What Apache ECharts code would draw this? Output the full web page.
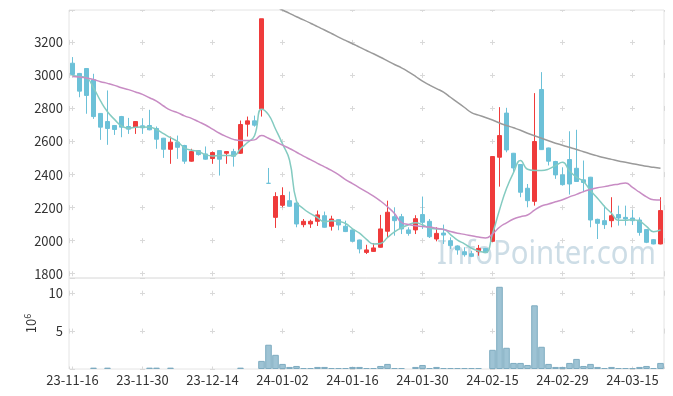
<!DOCTYPE html>
<html><head><meta charset="utf-8">
<script src="https://cdn.jsdelivr.net/npm/echarts@6/dist/echarts.min.js"></script>
<style>html,body{margin:0;padding:0;background:#fff;}#c{width:673px;height:396px;}</style>
</head><body><div id="c"></div>
<script>
const dates = ['23-11-16','23-11-17','23-11-20','23-11-21','23-11-22','23-11-23','23-11-24','23-11-27','23-11-28','23-11-29','23-11-30',
'23-12-01','23-12-04','23-12-05','23-12-06','23-12-07','23-12-08','23-12-11','23-12-12','23-12-13','23-12-14',
'23-12-15','23-12-18','23-12-19','23-12-20','23-12-21','23-12-22','23-12-26','23-12-27','23-12-28','24-01-02',
'24-01-03','24-01-04','24-01-05','24-01-08','24-01-09','24-01-10','24-01-11','24-01-12','24-01-15','24-01-16',
'24-01-17','24-01-18','24-01-19','24-01-22','24-01-23','24-01-24','24-01-25','24-01-26','24-01-29','24-01-30',
'24-01-31','24-02-01','24-02-02','24-02-05','24-02-06','24-02-07','24-02-08','24-02-13','24-02-14','24-02-15',
'24-02-16','24-02-19','24-02-20','24-02-21','24-02-22','24-02-23','24-02-26','24-02-27','24-02-28','24-02-29',
'24-03-04','24-03-05','24-03-06','24-03-07','24-03-08','24-03-11','24-03-12','24-03-13','24-03-14','24-03-15',
'24-03-18','24-03-19','24-03-20','24-03-21'];

const opens  = [3074,3012,3042,2974,2770,2721,2697,2751,2691,2687,2695,2697,2679,2620,2553,2596,2576,2481,2545,2525,2497,2545,2529,2539,2529,2705,2725,2798,2347,2141,2214,2242,2228,2097,2101,2117,2151,2087,2127,2087,2065,2004,1929,1935,1960,2057,2145,2145,2065,2065,2158,2117,2010,2046,2000,1968,1933,1921,1933,1953,1996,2505,2772,2529,2461,2317,2238,2915,2561,2479,2398,2491,2438,2368,2384,2129,2121,2121,2158,2141,2137,2125,2067,2006,1980];
const closes = [3006,2905,2879,2751,2687,2679,2673,2687,2675,2721,2683,2671,2614,2553,2596,2565,2481,2539,2521,2493,2533,2493,2539,2511,2703,2725,2699,3343,2347,2267,2273,2208,2101,2117,2117,2156,2081,2131,2095,2055,1996,1950,1944,1956,2071,2172,2121,2071,2044,2133,2111,2024,2044,2034,1970,1944,1915,1905,1953,1927,2509,2636,2549,2440,2293,2242,2600,2551,2481,2398,2339,2343,2358,2352,2125,2105,2097,2151,2137,2131,2121,2050,1990,1980,2182];
const lows   = [3000,2868,2768,2737,2610,2580,2640,2626,2646,2646,2646,2668,2556,2501,2465,2495,2465,2478,2515,2490,2465,2394,2465,2448,2525,2630,2690,2751,2347,2077,2202,2205,2081,2081,2077,2089,2079,2061,2063,2052,1993,1923,1919,1933,1958,2020,2030,2040,2030,2040,2071,2016,1996,1980,1950,1915,1903,1900,1909,1925,1993,2327,2535,2414,2263,2202,2212,2549,2455,2374,2333,2279,2355,2293,2081,2010,2071,2081,2091,2091,2095,2030,1985,1978,1978];
const highs  = [3111,3015,3045,3010,2772,2909,2700,2755,2743,2724,2741,2792,2691,2622,2630,2636,2580,2556,2548,2570,2540,2548,2541,2556,2727,2751,2757,3343,2440,2293,2323,2297,2230,2131,2127,2182,2176,2151,2129,2121,2068,2006,1975,1985,2156,2242,2202,2162,2081,2154,2267,2131,2081,2097,2020,1972,1960,1939,1974,1956,2512,2808,2804,2531,2463,2343,2893,3020,2563,2483,2444,2662,2671,2485,2386,2133,2212,2263,2212,2212,2186,2141,2069,2010,2263];

const ma5  = [2998,2994,2986,2925,2846,2780,2734,2695,2680,2687,2688,2687,2673,2648,2623,2600,2562,2547,2540,2520,2513,2516,2516,2514,2556,2594,2635,2796,2763,2676,2586,2488,2239,2193,2163,2140,2114,2120,2116,2104,2072,2045,2008,1980,1983,2019,2053,2078,2096,2108,2096,2077,2071,2069,2037,2003,1981,1954,1937,1929,2042,2186,2315,2412,2485,2432,2425,2425,2433,2454,2474,2422,2384,2358,2303,2257,2207,2166,2123,2124,2127,2118,2086,2054,2065];
const ma20 = [2994,2990,2984,2975,2962,2952,2940,2925,2914,2900,2885,2865,2845,2815,2790,2775,2755,2740,2720,2700,2675,2650,2630,2613,2606,2606,2610,2636,2620,2600,2578,2558,2535,2512,2490,2468,2447,2425,2400,2370,2345,2320,2295,2270,2240,2205,2165,2110,2098,2090,2086,2082,2075,2068,2055,2045,2038,2030,2022,2016,2040,2081,2108,2131,2145,2155,2185,2210,2222,2235,2248,2265,2280,2297,2310,2320,2327,2335,2342,2349,2322,2293,2265,2248,2246];
const ma60 = [null,null,null,null,null,null,null,null,null,null,null,null,null,null,null,null,null,null,null,null,null,null,null,null,null,null,null,null,null,3418,3396,3376,3355,3336,3316,3295,3275,3254,3232,3212,3192,3171,3151,3131,3110,3088,3066,3046,3022,2995,2965,2942,2920,2899,2868,2837,2806,2775,2760,2745,2730,2712,2697,2683,2668,2650,2635,2620,2605,2590,2578,2565,2552,2538,2525,2513,2502,2492,2482,2474,2466,2458,2450,2444,2438];

// volume in millions (10^6); 0 = too small to see in the picture
const volumes = [0,0,0,0.18,0,0.18,0,0,0,0,0,0.18,0.18,0,0.18,0,0,0,0,0,0,0,0,0,0.18,0,0,1.07,3.2,1.87,0.67,0.27,0.4,0.13,0.13,0.27,0.27,0.13,0.13,0.13,0.27,0.27,0.13,0.13,0.4,0.67,0.13,0.13,0,0.27,0.53,0.13,0.27,0.13,0.13,0.13,0.13,0.13,0.13,0,2.53,10.84,2.8,0.8,0.8,0.53,8.4,2.93,0.67,0.27,0.27,0.8,1.33,0.4,0.67,0.27,0.13,0.27,0.13,0.13,0.13,0.27,0.4,0.13,0.8];

const candles = dates.map((d, i) => [opens[i], closes[i], lows[i], highs[i]]);
const volData = volumes.map(v => (v > 0 ? v : null));

const FONT = '"Noto Sans CJK KR", "Noto Sans", sans-serif';
const borderCol = '#e4e4e4';
const crossCol = '#d9d9d9';
const UP = '#ef3b3b', DOWN = '#6cc1d8';

const chart = echarts.init(document.getElementById('c'), null, {renderer: 'canvas'});
chart.setOption({
  animation: false,
  backgroundColor: '#ffffff',
  textStyle: {fontFamily: FONT},
  grid: [
    {left: 69, right: 9, top: 10, height: 268, show: true, borderColor: borderCol, borderWidth: 1, backgroundColor: 'transparent'},
    {left: 69, right: 9, top: 278, height: 91, show: true, borderColor: borderCol, borderWidth: 1, backgroundColor: 'transparent'}
  ],
  xAxis: [
    {type: 'category', gridIndex: 0, data: dates, boundaryGap: true,
     axisLine: {show: false}, axisTick: {show: false}, axisLabel: {show: false}, splitLine: {show: false}},
    {type: 'category', gridIndex: 1, data: dates, boundaryGap: true,
     axisLine: {show: false}, axisTick: {show: false},
     axisLabel: {show: true, interval: 9, color: '#333', fontSize: 13, margin: 5, fontFamily: FONT},
     splitLine: {show: false}},
    {type: 'value', gridIndex: 0, min: -0.5, max: 84.5, minInterval: 10, maxInterval: 10,
     axisLine: {show: false}, axisTick: {show: false}, axisLabel: {show: false},
     splitLine: {show: true, lineStyle: {color: crossCol, width: 1, type: [5, 28.05], dashOffset: 3.17}}},
    {type: 'value', gridIndex: 1, min: -0.5, max: 84.5, minInterval: 10, maxInterval: 10,
     axisLine: {show: false}, axisTick: {show: false}, axisLabel: {show: false},
     splitLine: {show: true, lineStyle: {color: crossCol, width: 1, type: [5, 32.92], dashOffset: 25.25}}}
  ],
  yAxis: [
    {type: 'value', gridIndex: 0, min: 1774, max: 3396, minInterval: 200, maxInterval: 200, scale: true,
     axisLine: {show: false}, axisTick: {show: false},
     axisLabel: {color: '#333', fontSize: 13, margin: 6, showMinLabel: false, showMaxLabel: false, fontFamily: FONT,
                 formatter: v => String(v)},
     splitLine: {show: true, lineStyle: {color: crossCol, width: 1, type: [5, 65], dashOffset: 69}}},
    {type: 'value', gridIndex: 1, min: 0, max: 12, minInterval: 5, maxInterval: 5,
     name: '{a|10}{b|6}', nameLocation: 'middle', nameRotate: 90, nameGap: 30,
     nameTextStyle: {rich: {
       a: {fontSize: 13, color: '#333', lineHeight: 16, fontFamily: FONT},
       b: {fontSize: 9, color: '#333', lineHeight: 10, verticalAlign: 'top', fontFamily: FONT}}},
     axisLine: {show: false}, axisTick: {show: false},
     axisLabel: {color: '#333', fontSize: 13, margin: 6, showMinLabel: false, showMaxLabel: false, fontFamily: FONT,
                 formatter: v => String(v)},
     splitLine: {show: true, lineStyle: {color: crossCol, width: 1, type: [5, 65], dashOffset: 69}}}
  ],
  graphic: [
    {type: 'text', x: 656, y: 255, scaleX: 0.89, z: 1, silent: true,
     style: {text: 'InfoPointer.com', font: '33px "Noto Sans", sans-serif', fill: 'rgba(172,198,214,0.6)',
             align: 'right', verticalAlign: 'middle'}}
  ],
  series: [
    {type: 'candlestick', name: 'price', xAxisIndex: 0, yAxisIndex: 0, data: candles, barWidth: 5,
     itemStyle: {color: UP, color0: DOWN, borderColor: UP, borderColor0: DOWN, borderWidth: 1}},
    {type: 'line', name: 'MA5', xAxisIndex: 0, yAxisIndex: 0, data: ma5, smooth: true, showSymbol: false,
     lineStyle: {color: '#84cbc1', width: 1.5}},
    {type: 'line', name: 'MA20', xAxisIndex: 0, yAxisIndex: 0, data: ma20, smooth: true, showSymbol: false,
     lineStyle: {color: '#c88cc4', width: 1.5}},
    {type: 'line', name: 'MA60', xAxisIndex: 0, yAxisIndex: 0, data: ma60, smooth: true, showSymbol: false,
     lineStyle: {color: '#9a9a9a', width: 1.5}},
    {type: 'bar', name: 'volume', xAxisIndex: 1, yAxisIndex: 1, data: volData, barCategoryGap: '6%',
     itemStyle: {color: '#9ec3d4', borderColor: '#7eabc0', borderWidth: 1}}
  ]
});
</script>
</body></html>
